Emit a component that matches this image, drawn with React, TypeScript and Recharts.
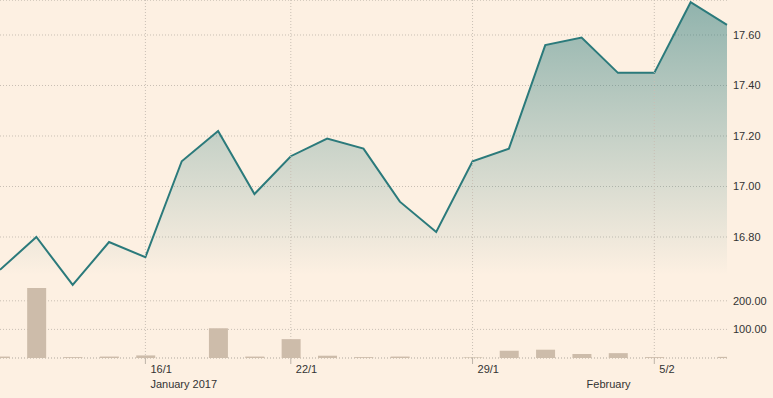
import { ComposedChart, Area, Bar, XAxis, YAxis, CartesianGrid, ReferenceLine } from 'recharts';

const W = 773;
const H = 398;
const BG = '#fdf0e2';
const GRID = '#c9bfb4';
const TEXT = '#333333';
const FONT = '"Liberation Sans", Arial, sans-serif';

// one entry per trading session
const prices = [
  16.67, 16.8, 16.61, 16.78, 16.72, 17.1, 17.22, 16.97, 17.12, 17.19, 17.15,
  16.94, 16.82, 17.1, 17.15, 17.56, 17.59, 17.45, 17.45, 17.73, 17.64,
];
const volumes = [5, 245, 3, 5, 9, 0, 104, 5, 66, 8, 3, 5, 0, 2, 25, 29, 14, 17, 3, 0, 4];

const priceTicks = [16.8, 17.0, 17.2, 17.4, 17.6];
const volumeTicks = [100, 200];

// session index where the date ticks sit
const gridDays = [4, 8, 13, 18];
const axisTicks = [4, 8, 13, 16, 18];
const dayLabels: Record<number, string> = { 4: '16/1', 8: '22/1', 13: '29/1', 18: '5/2' };
const monthLabels: Record<number, string> = { 4: 'January 2017', 16: 'February' };

const data = prices.map((price, i) => ({ i, price, volume: volumes[i] }));

const margin = { top: 0, right: 0, left: 0, bottom: 0 };
const tickStyle = { fill: TEXT, fontSize: 11, fontFamily: FONT };

function DateTick({ x, y, payload }: any) {
  const day = dayLabels[payload.value];
  const month = monthLabels[payload.value];
  return (
    <g>
      {day && <line x1={x} x2={x} y1={y} y2={y + 6} stroke="#bdb3a8" />}
      {day && (
        <text x={x + 5} y={y + 15} textAnchor="start" fill={TEXT} fontSize={11} fontFamily={FONT}>
          {day}
        </text>
      )}
      {month && (
        <text x={x + 5} y={y + 30} textAnchor="start" fill={TEXT} fontSize={11} fontFamily={FONT}>
          {month}
        </text>
      )}
    </g>
  );
}

export default function App() {
  const layer = { position: 'absolute' as const, left: 0, top: 0 };
  return (
    <div style={{ ...layer, width: W, height: H, background: BG }}>
      <div style={layer}>
        <ComposedChart width={W} height={H} data={data} margin={{ ...margin, bottom: 40 }}>
          <defs>
            <linearGradient id="priceFill" gradientUnits="userSpaceOnUse" x1="0" y1="0" x2="0" y2="275">
              <stop offset="0" stopColor="#2b7a7b" stopOpacity={0.52} />
              <stop offset="1" stopColor="#2b7a7b" stopOpacity={0} />
            </linearGradient>
          </defs>
          <CartesianGrid vertical={false} stroke={GRID} strokeDasharray="1 2" />
          <XAxis type="number" dataKey="i" domain={[0, 20]} hide />
          <YAxis
            orientation="right"
            width={46}
            domain={[16.3208, 17.7386]}
            allowDataOverflow
            ticks={priceTicks}
            tickFormatter={(v: number) => v.toFixed(2)}
            tickLine={false}
            axisLine={false}
            tickSize={0}
            tickMargin={6}
            tick={tickStyle}
          />
          {gridDays.map((d) => (
            <ReferenceLine key={d} x={d} stroke={GRID} strokeDasharray="1 2" />
          ))}
          <Area
            type="linear"
            dataKey="price"
            stroke="#2b7a7b"
            strokeWidth={2}
            fill="url(#priceFill)"
            fillOpacity={1}
            isAnimationActive={false}
            dot={false}
            activeDot={false}
          />
        </ComposedChart>
      </div>
      <div style={layer}>
        <ComposedChart width={W} height={H} data={data} margin={margin}>
          <CartesianGrid vertical={false} stroke={GRID} strokeDasharray="1 2" />
          <XAxis
            type="number"
            dataKey="i"
            domain={[0, 20]}
            allowDataOverflow
            ticks={axisTicks}
            interval={0}
            height={40}
            tickLine={false}
            axisLine={false}
            tickSize={0}
            tickMargin={0}
            tick={<DateTick />}
          />
          <YAxis
            orientation="right"
            width={46}
            domain={[0, 1252]}
            allowDataOverflow
            ticks={volumeTicks}
            tickFormatter={(v: number) => v.toFixed(2)}
            tickLine={false}
            axisLine={false}
            tickSize={0}
            tickMargin={6}
            tick={tickStyle}
          />
          <Bar dataKey="volume" fill="#cdbcaa" barSize={19} isAnimationActive={false} />
        </ComposedChart>
      </div>
    </div>
  );
}
